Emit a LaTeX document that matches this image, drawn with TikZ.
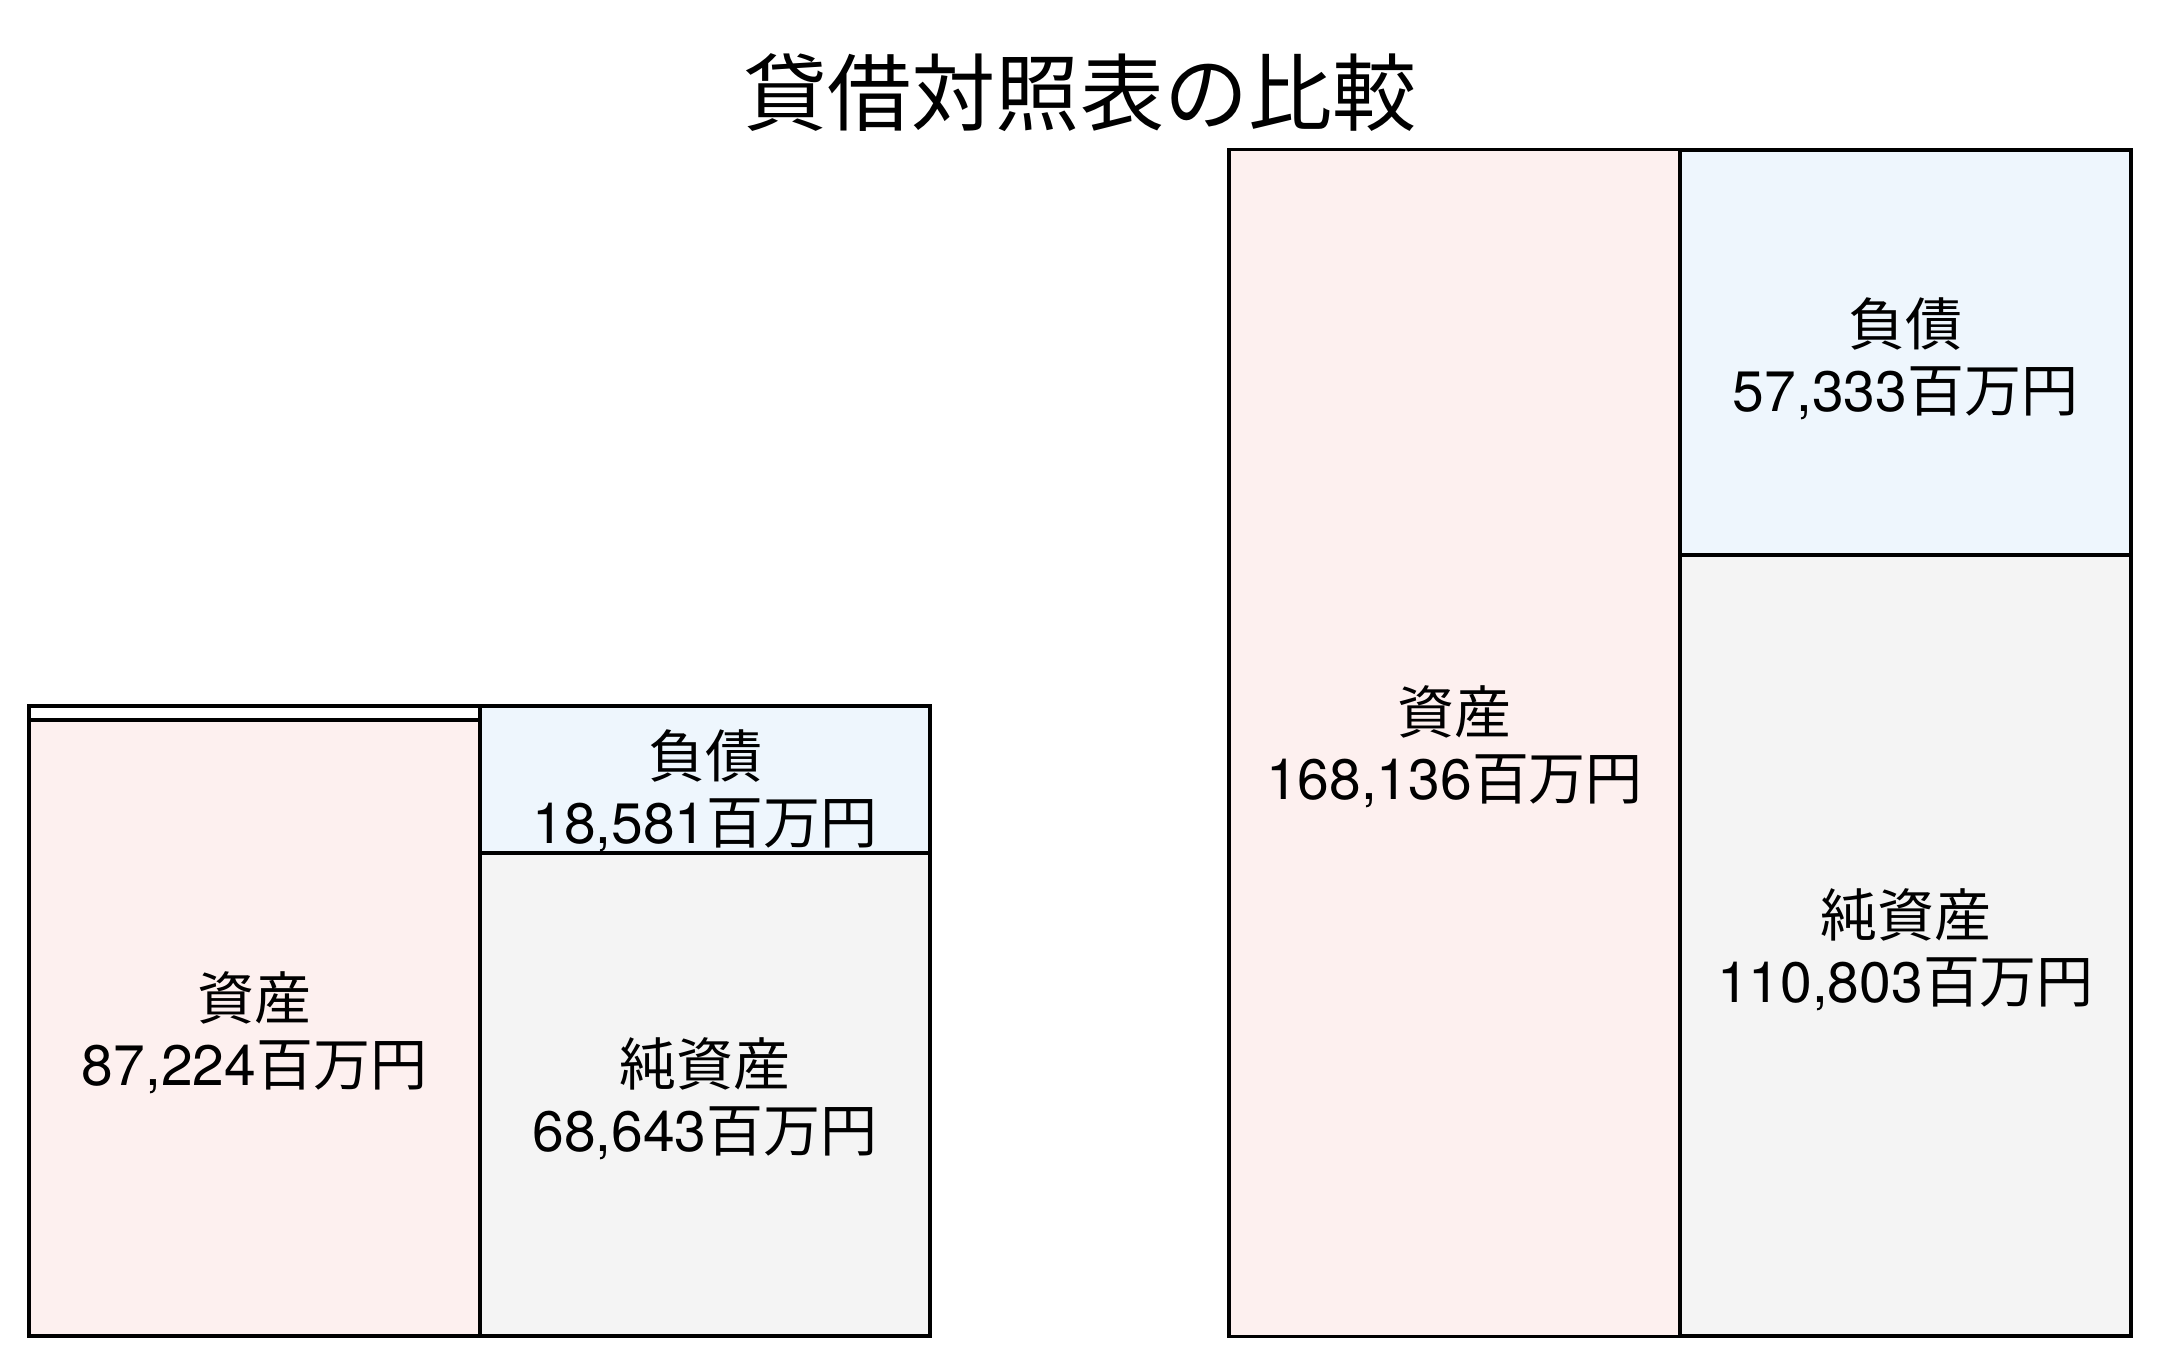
\documentclass[tikz,border=0pt]{standalone}
\usepackage{fontspec}
\setmainfont{TeX Gyre Heros}
\newfontfamily\jp{Noto Sans CJK JP}
\usepackage{tikz}

\definecolor{assetfill}{HTML}{FDF0EF}
\definecolor{debtfill}{HTML}{EEF6FD}
\definecolor{equityfill}{HTML}{F4F4F4}

\tikzset{
  cell/.style={draw=black, line width=1pt, inner sep=0pt},
  tag/.style={align=center, inner sep=0pt, font=\fontsize{16.2pt}{18.8pt}\selectfont},
}

\begin{document}
\begin{tikzpicture}[x=0.01cm, y=-0.01cm]
  \useasboundingbox (0,0) rectangle (2160,1366);
  \node[font=\jp\fontsize{23.9pt}{28pt}\selectfont] (title) at (1080,93) {貸借対照表の比較};

  % left sheet
  \draw[line width=1pt] (29,706) rectangle (930,1336);
  \node[cell, fill=assetfill, minimum width=4.51cm, minimum height=6.16cm] (lasset) at (254.5,1028) {};
  \node[cell, fill=debtfill, minimum width=4.50cm, minimum height=1.47cm] (ldebt) at (705,779.5) {};
  \node[cell, fill=equityfill, minimum width=4.50cm, minimum height=4.83cm] (lequity) at (705,1094.5) {};
  \node[tag] (lassettag) at ([yshift=-0.05cm]lasset.center) {{\jp 資産}\\87,224{\jp 百万円}};
  \node[tag] (ldebttag) at ([yshift=-0.11cm]ldebt.center) {{\jp 負債}\\18,581{\jp 百万円}};
  \node[tag] (lequitytag) at ([yshift=-0.04cm]lequity.center) {{\jp 純資産}\\68,643{\jp 百万円}};

  % right sheet
  \node[cell, fill=assetfill, minimum width=4.51cm, minimum height=11.86cm] (rasset) at (1454.5,743) {};
  \node[cell, fill=debtfill, minimum width=4.51cm, minimum height=4.05cm] (rdebt) at (1905.5,352.5) {};
  \node[cell, fill=equityfill, minimum width=4.51cm, minimum height=7.81cm] (requity) at (1905.5,945.5) {};
  \node[tag] (rassettag) at ([yshift=-0.04cm]rasset.center) {{\jp 資産}\\168,136{\jp 百万円}};
  \node[tag] (rdebttag) at ([yshift=-0.06cm]rdebt.center) {{\jp 負債}\\57,333{\jp 百万円}};
  \node[tag] (requitytag) at ([yshift=-0.04cm]requity.center) {{\jp 純資産}\\110,803{\jp 百万円}};
\end{tikzpicture}
\end{document}
